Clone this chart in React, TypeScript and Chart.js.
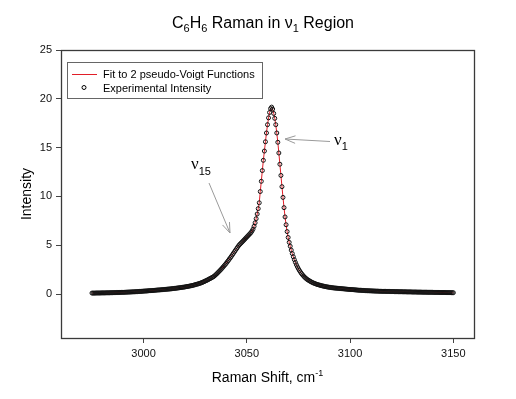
import React, { useEffect, useRef } from "react";
import { Chart, registerables } from "chart.js";

Chart.register(...registerables);

// ---- Data (Raman shift in cm^-1, step 0.5; intensity) ----
const shiftStep = 0.5;

const leftBaselineStart = 2975;
const leftBaseline = [
  0.10, 0.10, 0.10, 0.10, 0.11, 0.11, 0.11, 0.11, 0.11, 0.12,
  0.12, 0.12, 0.12, 0.12, 0.13, 0.13, 0.13, 0.13, 0.14, 0.14,
  0.14, 0.15, 0.15, 0.15, 0.16, 0.16, 0.16, 0.17, 0.17, 0.18,
  0.18, 0.18, 0.19, 0.19, 0.20, 0.20, 0.21, 0.21, 0.22, 0.22,
  0.23, 0.23, 0.24, 0.25, 0.25, 0.26, 0.27, 0.27, 0.28, 0.29,
  0.30,
];

const leftWingStart = 3000.5;
const leftWing = [
  0.31, 0.31, 0.32, 0.33, 0.34, 0.35, 0.35, 0.36, 0.37, 0.38,
  0.39, 0.40, 0.41, 0.42, 0.42, 0.43, 0.44, 0.45, 0.46, 0.47,
  0.48, 0.49, 0.50, 0.51, 0.52, 0.53, 0.54, 0.56, 0.57, 0.58,
  0.59, 0.61, 0.62, 0.64, 0.65, 0.67, 0.68, 0.70, 0.71, 0.73,
  0.75, 0.77, 0.79, 0.81, 0.83, 0.85, 0.87, 0.90, 0.93, 0.96,
  0.99, 1.02, 1.05, 1.08, 1.12, 1.16, 1.20, 1.25, 1.30, 1.35,
];

const shoulderStart = 3030.5;
const shoulder = [
  1.40, 1.45, 1.51, 1.57, 1.62, 1.68, 1.74, 1.80, 1.89, 1.99,
  2.09, 2.20, 2.31, 2.42, 2.53, 2.65, 2.77, 2.90, 3.02, 3.15,
  3.29, 3.43, 3.58, 3.72, 3.87, 4.02, 4.18, 4.33, 4.49, 4.64,
  4.80, 4.95, 5.07, 5.18, 5.29, 5.40, 5.51, 5.62, 5.74, 5.85,
  5.96, 6.07, 6.18, 6.30, 6.46, 6.65, 6.94, 7.30, 7.72, 8.20,
  8.75, 9.35,
];

const peakStart = 3056.5;
const peak = [
  10.5, 11.55, 12.65, 13.7, 14.65, 15.6, 16.5, 17.35, 18.05, 18.6,
  19.0, 19.15, 18.95, 18.5, 18.0, 17.35, 16.5, 15.55, 14.45, 13.3,
  12.15, 11.0, 9.9, 8.85,
];

const rightWingStart = 3068.5;
const rightWing = [
  7.9, 7.1, 6.4, 5.8, 5.3, 4.9, 4.5, 4.15, 3.82, 3.52,
  3.25, 3.0, 2.78, 2.58, 2.4, 2.24, 2.09, 1.96, 1.84, 1.73,
  1.63, 1.54, 1.46, 1.40, 1.33, 1.27, 1.21, 1.16, 1.11, 1.07,
  1.03, 0.99, 0.96, 0.93, 0.90, 0.87, 0.84, 0.82, 0.79, 0.77,
  0.75, 0.73, 0.71, 0.69, 0.68, 0.66, 0.65, 0.63,
];

const rightBaselineStart = 3092.5;
const rightBaseline = [
  0.62, 0.61, 0.60, 0.59, 0.58, 0.57, 0.56, 0.55,
  0.54, 0.53, 0.52, 0.51, 0.50, 0.49, 0.48, 0.47,
  0.46, 0.46, 0.45, 0.44, 0.43, 0.42, 0.41, 0.40,
  0.39, 0.39, 0.38, 0.37, 0.37, 0.36, 0.35, 0.35,
  0.34, 0.34, 0.33, 0.33, 0.32, 0.32, 0.31, 0.31,
  0.30, 0.30, 0.30, 0.29, 0.29, 0.29, 0.28, 0.28,
  0.28, 0.28, 0.27, 0.27, 0.27, 0.27, 0.26, 0.26,
  0.26, 0.26, 0.25, 0.25, 0.25, 0.25, 0.24, 0.24,
  0.24, 0.24, 0.23, 0.23, 0.23, 0.23, 0.22, 0.22,
  0.22, 0.22, 0.22, 0.21, 0.21, 0.21, 0.21, 0.21,
  0.20, 0.20, 0.20, 0.20, 0.20, 0.19, 0.19, 0.19,
  0.19, 0.19, 0.18, 0.18, 0.18, 0.18, 0.18, 0.18,
  0.17, 0.17, 0.17, 0.17, 0.17, 0.17, 0.16, 0.16,
  0.16, 0.16, 0.16, 0.16, 0.15, 0.15, 0.15, 0.15,
  0.15, 0.14, 0.14, 0.14,
];

const xTicks = [3000, 3050, 3100, 3150];
const yTicks = [0, 5, 10, 15, 20, 25];
const xMin = 2960;
const xMax = 3160;
const yMin = -4.5;
const yMax = 25;

const fitLabel = "Fit to 2 pseudo-Voigt Functions";
const expLabel = "Experimental Intensity";

const SANS = '"Liberation Sans", Arial, Helvetica, sans-serif';
const SERIF = '"Liberation Serif", "Times New Roman", serif';

const segments: [number, number[]][] = [
  [leftBaselineStart, leftBaseline],
  [leftWingStart, leftWing],
  [shoulderStart, shoulder],
  [peakStart, peak],
  [rightWingStart, rightWing],
  [rightBaselineStart, rightBaseline],
];

const points = segments.flatMap(([start, vals]) =>
  vals.map((y, i) => ({ x: start + i * shiftStep, y }))
);

type Part = { text: string; font: string; dy: number };

function measureParts(ctx: CanvasRenderingContext2D, parts: Part[]) {
  let w = 0;
  for (const p of parts) {
    ctx.font = p.font;
    w += ctx.measureText(p.text).width;
  }
  return w;
}

function drawParts(ctx: CanvasRenderingContext2D, parts: Part[], x: number, baseline: number) {
  ctx.textAlign = "left";
  ctx.textBaseline = "alphabetic";
  for (const p of parts) {
    ctx.font = p.font;
    ctx.fillText(p.text, x, baseline + p.dy);
    x += ctx.measureText(p.text).width;
  }
}

function arrow(ctx: CanvasRenderingContext2D, x1: number, y1: number, x2: number, y2: number) {
  const ang = Math.atan2(y2 - y1, x2 - x1);
  const len = 11;
  const spread = 0.35;
  ctx.beginPath();
  ctx.moveTo(x1, y1);
  ctx.lineTo(x2, y2);
  ctx.moveTo(x2 - len * Math.cos(ang - spread), y2 - len * Math.sin(ang - spread));
  ctx.lineTo(x2, y2);
  ctx.lineTo(x2 - len * Math.cos(ang + spread), y2 - len * Math.sin(ang + spread));
  ctx.stroke();
}

const decorPlugin = {
  id: "decor",
  afterDraw(chart: any) {
    const ctx: CanvasRenderingContext2D = chart.ctx;
    const a = chart.chartArea;
    ctx.save();

    // frame
    ctx.strokeStyle = "#3a3a3a";
    ctx.lineWidth = 1.3;
    ctx.strokeRect(Math.round(a.left) + 0.5, Math.round(a.top) + 0.5, Math.round(a.right - a.left), Math.round(a.bottom - a.top));

    ctx.fillStyle = "#000";

    // title with subscripts
    const big = `16px ${SANS}`;
    const sub = `11px ${SANS}`;
    const titleParts: Part[] = [
      { text: "C", font: big, dy: 0 },
      { text: "6", font: sub, dy: 4 },
      { text: "H", font: big, dy: 0 },
      { text: "6", font: sub, dy: 4 },
      { text: " Raman in ν", font: big, dy: 0 },
      { text: "1", font: sub, dy: 4 },
      { text: " Region", font: big, dy: 0 },
    ];
    const tw = measureParts(ctx, titleParts);
    drawParts(ctx, titleParts, 263 - tw / 2, 28);

    // x axis title
    const xParts: Part[] = [
      { text: "Raman Shift, cm", font: `14px ${SANS}`, dy: 0 },
      { text: "-1", font: `9px ${SANS}`, dy: -6 },
    ];
    const xw = measureParts(ctx, xParts);
    drawParts(ctx, xParts, (a.left + a.right) / 2 - xw / 2, 382);

    // y axis title
    ctx.save();
    ctx.translate(30.5, (a.top + a.bottom) / 2);
    ctx.rotate(-Math.PI / 2);
    ctx.font = `14px ${SANS}`;
    ctx.textAlign = "center";
    ctx.textBaseline = "alphabetic";
    ctx.fillText("Intensity", 0, 0);
    ctx.restore();

    // legend
    ctx.strokeStyle = "#666";
    ctx.lineWidth = 1;
    ctx.strokeRect(67.5, 62.5, 195, 36);
    ctx.strokeStyle = "rgb(225,30,40)";
    ctx.beginPath();
    ctx.moveTo(72, 74.5);
    ctx.lineTo(97, 74.5);
    ctx.stroke();
    ctx.strokeStyle = "#000";
    ctx.beginPath();
    ctx.arc(84, 87.5, 2, 0, Math.PI * 2);
    ctx.stroke();
    ctx.font = `11px ${SANS}`;
    ctx.textAlign = "left";
    ctx.textBaseline = "alphabetic";
    ctx.fillStyle = "#000";
    ctx.fillText(fitLabel, 103, 78);
    ctx.fillText(expLabel, 103, 91.5);

    // annotations
    const nuFont = `17px ${SERIF}`;
    const subFont = `11px ${SANS}`;
    drawParts(ctx, [
      { text: "ν", font: nuFont, dy: 0 },
      { text: "15", font: subFont, dy: 6 },
    ], 191, 169);
    drawParts(ctx, [
      { text: "ν", font: nuFont, dy: 0 },
      { text: "1", font: subFont, dy: 5 },
    ], 334, 145);

    ctx.strokeStyle = "#9a9a9a";
    ctx.lineWidth = 1;
    arrow(ctx, 209, 183, 230, 233);
    arrow(ctx, 330, 141.5, 285, 139);

    ctx.restore();
  },
};

export default function App() {
  const ref = useRef<HTMLCanvasElement | null>(null);

  useEffect(() => {
    if (!ref.current) return;
    const tickFont = { family: SANS, size: 11 };
    const chart = new Chart(ref.current, {
      type: "scatter",
      data: {
        datasets: [
          {
            label: expLabel,
            data: points,
            showLine: false,
            pointRadius: 2,
            pointBorderWidth: 1,
            pointStyle: "circle",
            borderColor: "#111",
            backgroundColor: "rgba(0,0,0,0)",
          },
          {
            label: fitLabel,
            data: points,
            showLine: true,
            borderColor: "rgb(225,30,40)",
            borderWidth: 1,
            pointRadius: 0,
            fill: false,
            tension: 0,
          },
        ],
      },
      options: {
        responsive: false,
        animation: false,
        devicePixelRatio: 1,
        events: [],
        layout: { padding: { left: 0, top: 50, right: 42, bottom: 0 } },
        plugins: {
          legend: { display: false },
          title: { display: false },
          tooltip: { enabled: false },
        },
        scales: {
          x: {
            type: "linear",
            min: xMin,
            max: xMax,
            afterBuildTicks: (s: any) => {
              s.ticks = xTicks.map((v) => ({ value: v }));
            },
            afterFit: (s: any) => {
              s.height = 61;
            },
            grid: { drawOnChartArea: false, drawTicks: true, tickLength: 5, color: "#444" },
            border: { display: false },
            ticks: {
              font: tickFont,
              color: "#111",
              padding: 4,
              maxRotation: 0,
              autoSkip: false,
              callback: (v: any) => String(v),
            },
          },
          y: {
            type: "linear",
            min: yMin,
            max: yMax,
            afterBuildTicks: (s: any) => {
              s.ticks = yTicks.map((v) => ({ value: v }));
            },
            afterFit: (s: any) => {
              s.width = 61;
            },
            grid: { drawOnChartArea: false, drawTicks: true, tickLength: 5, color: "#444" },
            border: { display: false },
            ticks: {
              font: tickFont,
              color: "#111",
              padding: 4,
              autoSkip: false,
              callback: (v: any) => String(v),
            },
          },
        },
      } as any,
      plugins: [decorPlugin],
    });
    return () => chart.destroy();
  }, []);

  return (
    <div style={{ position: "fixed", left: 0, top: 0, width: 516, height: 399, background: "#fff" }}>
      <canvas ref={ref} width={516} height={399} style={{ display: "block" }} />
    </div>
  );
}
